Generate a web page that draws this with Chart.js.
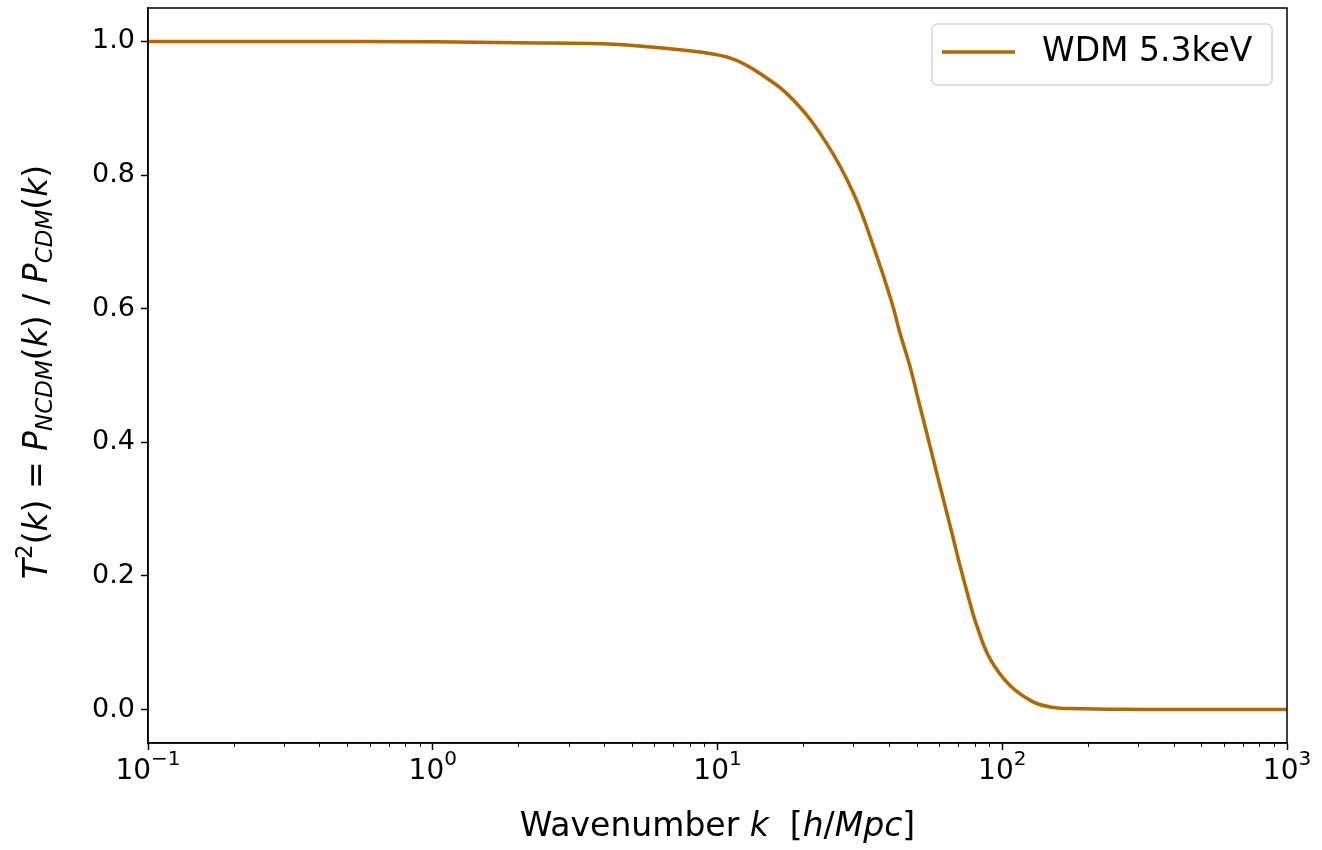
<!DOCTYPE html>
<html>
<head>
<meta charset="utf-8">
<script src="https://cdn.jsdelivr.net/npm/chart.js@4"></script>
<style>
html, body { margin: 0; padding: 0; background: #fff; }
#box { width: 1322px; height: 850px; }
</style>
</head>
<body>
<div id="box"><canvas id="chart" width="1322" height="850"></canvas></div>
<script>
// values
var seriesLabel = "WDM 5.3keV";
var kValues = [0.1, 0.3, 1, 2, 3.6, 5.05, 8.69, 11.3, 14.1, 18.5, 24.2, 30.0, 35.3, 40.9, 43.7, 47.4, 50.7, 54.3, 58.0, 62.1, 66.5, 71.1, 77.0, 81.3, 90.6, 106.5, 128.3, 147.2, 173.0, 300, 1000];
var t2Values = [1.0, 1.0, 0.9995, 0.998, 0.997, 0.994, 0.984, 0.974, 0.952, 0.912, 0.847, 0.773, 0.693, 0.610, 0.564, 0.514, 0.464, 0.414, 0.365, 0.315, 0.265, 0.215, 0.160, 0.126, 0.076, 0.036, 0.0115, 0.004, 0.0015, 0.0003, 0.0];
var yTicks = [0.0, 0.2, 0.4, 0.6, 0.8, 1.0];
var xDecades = [-1, 0, 1, 2, 3];
var xTickBase = "10";
var xTickExps = ["\u22121", "0", "1", "2", "3"];

var lineColor = "#b06800";
var fontFamily = "'DejaVu Sans', sans-serif";

var points = [];
for (var i = 0; i < kValues.length; i++)
{
    points.push({x: kValues[i], y: t2Values[i]});
}

function isMajor(v)
{
    var l = Math.log10(v);
    return Math.abs(l - Math.round(l)) < 1e-6;
}

// draw a run of mixed-font pieces centred on (0,0)
function drawPieces(ctx, pieces)
{
    var total = 0;
    pieces.forEach(function (p) {
        ctx.font = p.f;
        p.w = ctx.measureText(p.t).width;
        total += p.w;
    });
    var x = -total / 2;
    pieces.forEach(function (p) {
        ctx.font = p.f;
        ctx.fillText(p.t, x, p.dy || 0);
        x += p.w;
    });
}

var extras = {
    id: "extras",
    afterDraw: function (chart) {
        var ctx = chart.ctx;
        var a = chart.chartArea;
        var xs = chart.scales.x;
        ctx.save();
        // frame
        ctx.strokeStyle = "#000";
        ctx.lineWidth = 1.5;
        ctx.strokeRect(a.left, a.top, a.right - a.left, a.bottom - a.top);
        // minor ticks on the log axis
        ctx.lineWidth = 1;
        xs.ticks.forEach(function (t) {
            if (!isMajor(t.value))
            {
                var px = Math.round(xs.getPixelForValue(t.value)) + 0.5;
                ctx.beginPath();
                ctx.moveTo(px, a.bottom);
                ctx.lineTo(px, a.bottom + 4);
                ctx.stroke();
            }
        });
        ctx.fillStyle = "#000";
        ctx.textBaseline = "middle";
        ctx.textAlign = "left";
        var nf = "28px " + fontFamily;
        var sf = "20px " + fontFamily;
        // x tick labels with real superscripts
        xDecades.forEach(function (d, j) {
            var px = xs.getPixelForValue(Math.pow(10, d));
            ctx.save();
            ctx.translate(px, 772);
            drawPieces(ctx, [{t: xTickBase, f: nf}, {t: xTickExps[j], f: sf, dy: -12}]);
            ctx.restore();
        });
        // axis titles and legend are a size up from the tick labels
        var tf = "33px " + fontFamily;
        var tif = "italic 33px " + fontFamily;
        var tsf = "23px " + fontFamily;
        var tsif = "italic 23px " + fontFamily;
        // x title
        ctx.save();
        ctx.translate((a.left + a.right) / 2, 827);
        drawPieces(ctx, [
            {t: "Wavenumber ", f: tf}, {t: "k", f: tif}, {t: "  [", f: tf},
            {t: "h", f: tif}, {t: "/", f: tf}, {t: "Mpc", f: tif}, {t: "]", f: tf}
        ]);
        ctx.restore();
        // y title
        ctx.save();
        ctx.translate(38, 372);
        ctx.rotate(-Math.PI / 2);
        drawPieces(ctx, [
            {t: "T", f: tif}, {t: "2", f: tsf, dy: -12}, {t: "(", f: tf}, {t: "k", f: tif}, {t: ")", f: tf},
            {t: " = ", f: tf}, {t: "P", f: tif}, {t: "NCDM", f: tsif, dy: 8}, {t: "(", f: tf},
            {t: "k", f: tif}, {t: ")", f: tf}, {t: " / ", f: tf}, {t: "P", f: tif},
            {t: "CDM", f: tsif, dy: 8}, {t: "(", f: tf}, {t: "k", f: tif}, {t: ")", f: tf}
        ]);
        ctx.restore();
        // legend
        var lx = 932, ly = 24, lw = 340, lh = 61;
        ctx.beginPath();
        ctx.roundRect(lx, ly, lw, lh, 5);
        ctx.fillStyle = "rgba(255,255,255,0.8)";
        ctx.fill();
        ctx.strokeStyle = "#d6d6d6";
        ctx.lineWidth = 1.5;
        ctx.stroke();
        ctx.strokeStyle = chart.data.datasets[0].borderColor;
        ctx.lineWidth = 3.5;
        ctx.beginPath();
        ctx.moveTo(942, 52);
        ctx.lineTo(1015, 52);
        ctx.stroke();
        ctx.fillStyle = "#000";
        ctx.font = tf;
        ctx.fillText(chart.data.datasets[0].label, 1042, 52);
        ctx.restore();
    }
};

var chart = new Chart(document.getElementById("chart"), {
    type: "line",
    data: {
        datasets: [{
            label: seriesLabel,
            data: points,
            borderColor: lineColor,
            borderWidth: 3.5,
            pointRadius: 0,
            fill: false,
            tension: 0.4
        }]
    },
    options: {
        responsive: false,
        animation: false,
        layout: { padding: { top: 8, right: 35, left: 0, bottom: 0 } },
        plugins: { legend: { display: false }, tooltip: { enabled: false } },
        scales: {
            x: {
                type: "logarithmic",
                min: 0.1,
                max: 1000,
                afterFit: function (s) {
                    s.height = 107;
                    s.paddingLeft = 0;
                    s.paddingRight = 0;
                },
                afterBuildTicks: function (s) {
                    var t = [];
                    xDecades.forEach(function (d) {
                        for (var m = 1; m <= 9; m++)
                        {
                            var v = m * Math.pow(10, d);
                            if (v <= 1000.0001) t.push({value: v, major: m == 1});
                        }
                    });
                    s.ticks = t;
                },
                grid: {
                    drawOnChartArea: false,
                    tickLength: 7,
                    tickWidth: 1.5,
                    tickColor: function (c) { return c.tick && isMajor(c.tick.value) ? "#000" : "rgba(0,0,0,0)"; }
                },
                border: { display: true, color: "#000", width: 1.5 },
                ticks: {
                    autoSkip: false,
                    maxRotation: 0,
                    callback: function () { return ""; }
                }
            },
            y: {
                type: "linear",
                min: -0.05,
                max: 1.05,
                afterFit: function (s) {
                    s.width = 148;
                    s.paddingTop = 0;
                    s.paddingBottom = 0;
                },
                afterBuildTicks: function (s) {
                    s.ticks = yTicks.map(function (v) { return {value: v}; });
                },
                grid: { drawOnChartArea: false, tickLength: 7, tickWidth: 1.5, tickColor: "#000" },
                border: { display: true, color: "#000", width: 1.5 },
                ticks: {
                    padding: 6,
                    color: "#000",
                    font: { family: fontFamily, size: 27 },
                    callback: function (v) { return v.toFixed(1); }
                }
            }
        }
    },
    plugins: [extras]
});
</script>
</body>
</html>
